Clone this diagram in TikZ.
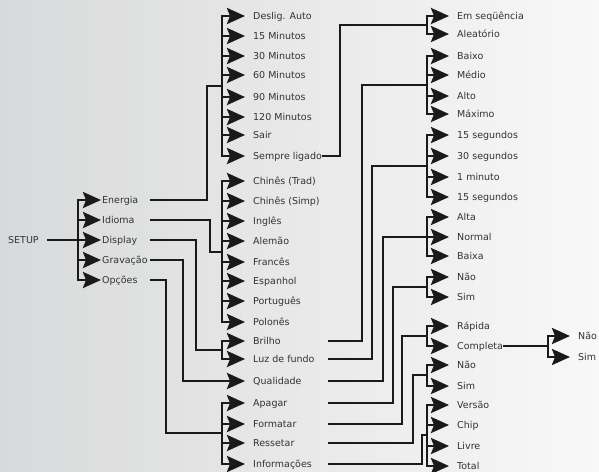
\documentclass[tikz,border=0pt]{standalone}
\usepackage{fontspec}
\setmainfont{DejaVu Sans}
\usetikzlibrary{arrows.meta}

\definecolor{bgl}{HTML}{D8D9DA}
\definecolor{bgr}{HTML}{F8F8F8}
\definecolor{txt}{HTML}{333333}
\definecolor{ink}{HTML}{1A1A1A}

\tikzset{
  wire/.style={draw=ink, line width=2.6pt},
  branch/.style={wire, -{Stealth[length=18pt,width=16pt,inset=3pt]}, shorten >=8pt},
  item/.style={anchor=west, inner sep=0pt, text=txt, text height=7pt, text depth=1pt,
               font=\fontsize{9.5}{11}\selectfont},
}

\begin{document}
\begin{tikzpicture}[x=1pt,y=-1pt]
  \shade[use as bounding box, left color=bgl, right color=bgr] (0,0) rectangle (599,471);
  \coordinate (out1) at (150,0);
  \coordinate (out2) at (328,0);

  % menu entries
  \node[item] (setup) at (8,240) {SETUP};
  \foreach \nm/\y/\lbl in {energia/200/Energia, idioma/220/Idioma, display/240/Display,
                           gravacao/260/Gravação, opcoes/280/Opções}
    \node[item] (\nm) at (102,\y) {\lbl};
  \foreach \nm/\y/\lbl in {auto/16/Deslig. Auto, m15/36/15 Minutos, m30/56/30 Minutos,
                           m60/75/60 Minutos, m90/97/90 Minutos, m120/117/120 Minutos,
                           sair/135/Sair, sempre/156/Sempre ligado,
                           trad/181/Chinês (Trad), simp/201/Chinês (Simp), ingles/221/Inglês,
                           alemao/241/Alemão, frances/262/Francês, espanhol/281/Espanhol,
                           portugues/301/Português, polones/322/Polonês,
                           brilho/341/Brilho, luz/359/Luz de fundo, qualidade/381/Qualidade,
                           apagar/403/Apagar, formatar/424/Formatar, ressetar/443/Ressetar,
                           info/464/Informações}
    \node[item] (\nm) at (253,\y) {\lbl};
  \foreach \nm/\y/\lbl in {emseq/16/Em seqüência, aleat/34/Aleatório,
                           baixo/56/Baixo, medio/75/Médio, alto/96/Alto, maximo/114/Máximo,
                           s15a/135/15 segundos, s30/156/30 segundos, min1/177/1 minuto,
                           s15b/197/15 segundos,
                           alta/217/Alta, normal/237/Normal, baixa/256/Baixa,
                           nao1/277/Não, sim1/297/Sim, rapida/326/Rápida, completa/346/Completa,
                           nao2/365/Não, sim2/386/Sim,
                           versao/405/Versão, chip/425/Chip, livre/446/Livre, total/466/Total}
    \node[item] (\nm) at (457,\y) {\lbl};
  \node[item] (nao3) at (578,336) {Não};
  \node[item] (sim3) at (578,357) {Sim};

  % SETUP -> first level
  \coordinate (j) at (78,240);
  \draw[wire, shorten <=8pt] (setup) -- (j);
  \foreach \k in {energia,idioma,display,gravacao,opcoes}
    \draw[branch, shorten >=1pt] (j) |- (\k.west);

  % first level -> second level
  \foreach \src/\tx/\my/\kids in {energia/207/86/{auto,m15,m30,m60,m90,m120,sair,sempre},
      idioma/210/252/{trad,simp,ingles,alemao,frances,espanhol,portugues,polones},
      display/196/350/{brilho,luz}, gravacao/183/381/{qualidade},
      opcoes/166/433/{apagar,formatar,ressetar,info}} {
    \draw[wire] (\src.east -| out1) -| (\tx,\my) -- (222,\my) coordinate (j);
    \foreach \k in \kids
      \draw[branch] (j) |- (\k.west);
  }

  % second level -> third level
  \draw[wire] (sempre.east) -| (340,25) -- (427,25) coordinate (j);
  \foreach \k in {emseq,aleat}
    \draw[branch] (j) |- (\k.west);
  \foreach \src/\tx/\my/\kids in {brilho/362/85/{baixo,medio,alto,maximo},
      luz/372/166/{s15a,s30,min1,s15b}, qualidade/383/237/{alta,normal,baixa},
      apagar/393/287/{nao1,sim1}, formatar/402/336/{rapida,completa},
      ressetar/413/375/{nao2,sim2}, info/422/435/{versao,chip,livre,total}} {
    \draw[wire] (\src.east -| out2) -| (\tx,\my) -- (427,\my) coordinate (j);
    \foreach \k in \kids
      \draw[branch] (j) |- (\k.west);
  }

  % Completa
  \draw[wire] (completa.east) -- (548,346) coordinate (j);
  \foreach \k in {nao3,sim3}
    \draw[branch] (j) |- (\k.west);
\end{tikzpicture}
\end{document}
